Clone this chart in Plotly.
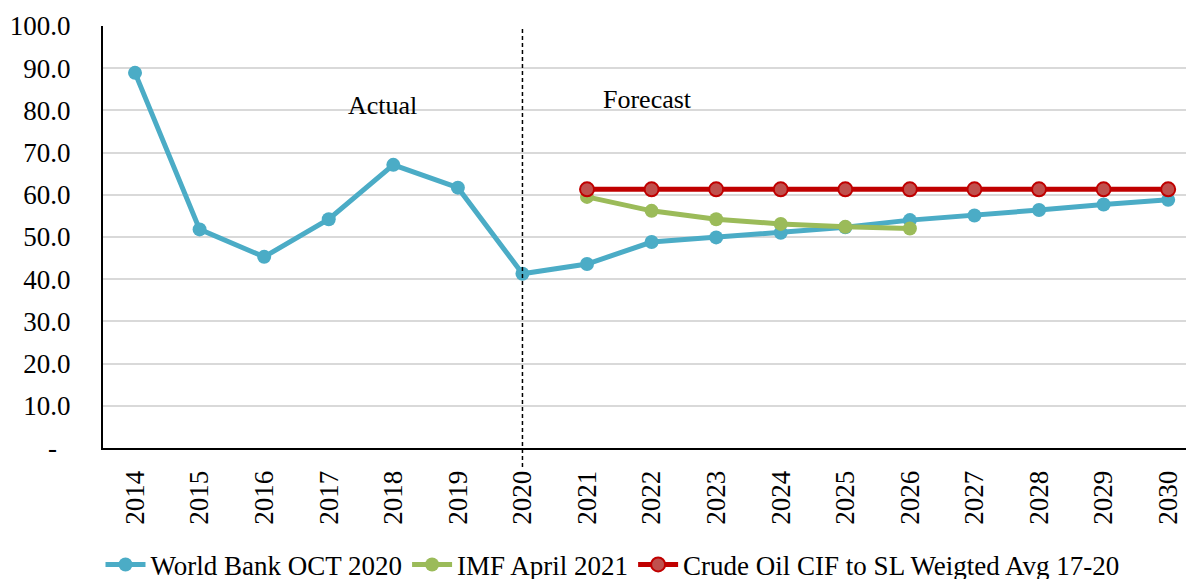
import plotly.graph_objects as go

years = [str(y) for y in range(2014, 2031)]
world_bank = [88.9, 51.8, 45.3, 54.2, 67.1, 61.7, 41.3, 43.6, 48.8, 49.9, 51.0, 52.3, 54.0, 55.1, 56.4, 57.7, 58.8]
imf_years = [str(y) for y in range(2021, 2027)]
imf = [59.5, 56.2, 54.2, 53.1, 52.4, 52.0]
cif_years = [str(y) for y in range(2021, 2031)]
cif = [61.3] * 10
ytick_vals = [0, 10, 20, 30, 40, 50, 60, 70, 80, 90, 100]
ytick_text = ["-" + "\u00a0" * 2, "10.0", "20.0", "30.0", "40.0", "50.0", "60.0", "70.0", "80.0", "90.0", "100.0"]

FONT = "Liberation Serif, Times New Roman, serif"

fig = go.Figure()
fig.add_trace(go.Scatter(
    x=years, y=world_bank, name="World Bank OCT 2020", mode="lines+markers",
    line=dict(color="#4bacc6", width=5), marker=dict(color="#4bacc6", size=14)))
fig.add_trace(go.Scatter(
    x=imf_years, y=imf, name="IMF April 2021", mode="lines+markers",
    line=dict(color="#9bbb59", width=5), marker=dict(color="#9bbb59", size=14)))
fig.add_trace(go.Scatter(
    x=cif_years, y=cif, name="Crude Oil CIF to SL Weigted Avg 17-20", mode="lines+markers",
    line=dict(color="#c00000", width=5),
    marker=dict(color="#c0504d", size=14, line=dict(color="#c00000", width=2))))

fig.add_shape(type="line", xref="x", yref="paper", x0=years.index("2020"), x1=years.index("2020"),
              y0=-0.045, y1=1, line=dict(color="black", width=1.5, dash="4px,3px"), layer="above")

fig.add_annotation(x=3.83, y=81.2, xref="x", yref="y",
                   text="Actual", showarrow=False, font=dict(family=FONT, size=26, color="black"))
fig.add_annotation(x=7.93, y=82.6, xref="x", yref="y",
                   text="Forecast", showarrow=False, font=dict(family=FONT, size=26, color="black"))

fig.update_layout(
    width=1194, height=600,
    margin=dict(l=95, r=8, t=18, b=160),
    plot_bgcolor="white", paper_bgcolor="white",
    font=dict(family=FONT, size=27, color="black"),
    showlegend=True,
    legend=dict(orientation="h", x=0.467, xanchor="center", y=-0.277, yanchor="middle",
                font=dict(family=FONT, size=27, color="black"), itemwidth=40,
                tracegroupgap=0, bgcolor="rgba(0,0,0,0)"),
    xaxis=dict(type="category", range=[-0.496, 16.40], tickangle=-90, automargin=False,
               showline=True, linecolor="black", linewidth=2, showgrid=False,
               ticks="", ticklen=0, ticklabelstandoff=10,
               tickfont=dict(family=FONT, size=27, color="black")),
    yaxis=dict(range=[0, 100], tickvals=ytick_vals, ticktext=ytick_text, automargin=False,
               showline=True, linecolor="black", linewidth=2,
               showgrid=True, gridcolor="#d9d9d9", gridwidth=2, zeroline=False,
               ticks="", ticklabelstandoff=25,
               tickfont=dict(family=FONT, size=27, color="black")),
)

fig.write_html("out.html")
